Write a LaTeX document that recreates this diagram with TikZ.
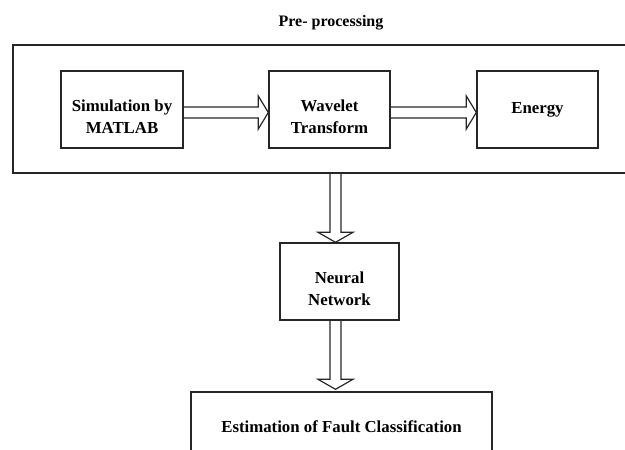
\documentclass[tikz,border=0pt]{standalone}
\usepackage{fontspec}
\setmainfont{Liberation Serif}
\usetikzlibrary{calc}

\begin{document}
\begin{tikzpicture}[x=1pt,y=-1pt,
    block/.style={draw=black!85,line width=1.4pt,align=center,inner sep=0pt,
      font=\fontsize{16.8}{21.5}\selectfont\bfseries},
    twoline/.style={text height=48pt},
    harrow/.style={draw=black!85,line width=1.2pt,line join=miter,to path={
      ($(\tikztostart)+(0,-5.5)$) -- ($(\tikztotarget)+(-10,-5.5)$)
      -- ($(\tikztotarget)+(-10,-16.5)$) -- (\tikztotarget)
      -- ($(\tikztotarget)+(-10,16.5)$) -- ($(\tikztotarget)+(-10,5.5)$)
      -- ($(\tikztostart)+(0,5.5)$)}},
    varrow/.style={draw=black!85,line width=1.2pt,line join=miter,to path={
      ($(\tikztostart)+(-5.5,0)$) -- ($(\tikztotarget)+(-5.5,-10)$)
      -- ($(\tikztotarget)+(-17.5,-10)$) -- (\tikztotarget)
      -- ($(\tikztotarget)+(17.5,-10)$) -- ($(\tikztotarget)+(5.5,-10)$)
      -- ($(\tikztostart)+(5.5,0)$)}}]
  \useasboundingbox (0,0) rectangle (625,450);
  \clip (0,0) rectangle (625,450);

  % pre-processing stage
  \node[block,minimum width=617,minimum height=128] (pre) at (321.5,109) {};
  \node[font=\fontsize{16}{19}\selectfont\bfseries] (title) at (331,23) {Pre- processing};

  \node[block,twoline,minimum width=122,minimum height=77] (sim) at (122,109.5) {Simulation by\\MATLAB};
  \node[block,twoline,minimum width=121,minimum height=77] (wt) at (329.5,109.5) {Wavelet\\Transform};
  \node[block,minimum width=121,minimum height=77] (en) at (537.5,109.5) {Energy};

  \draw[harrow] ($(sim.east)+(0,3)$) to ($(wt.west)+(0,3)$);
  \draw[harrow] ($(wt.east)+(0,3)$) to ($(en.west)+(0,3)$);

  % classification
  \node[block,twoline,minimum width=119,minimum height=77] (nn) at (339.5,281.5) {Neural\\Network};
  \node[block,minimum width=301,minimum height=70] (est) at (341.5,427) {Estimation of Fault Classification};

  \coordinate (pre-out) at ($(nn.north |- pre.south)+(-4,0)$);
  \coordinate (nn-in) at ($(nn.north)+(-4,0)$);
  \coordinate (nn-out) at ($(nn.south)+(-4,0)$);
  \coordinate (est-in) at ($(nn-out |- est.north)+(0,-2)$);
  \draw[varrow] (pre-out) to (nn-in);
  \draw[varrow] (nn-out) to (est-in);
\end{tikzpicture}
\end{document}
